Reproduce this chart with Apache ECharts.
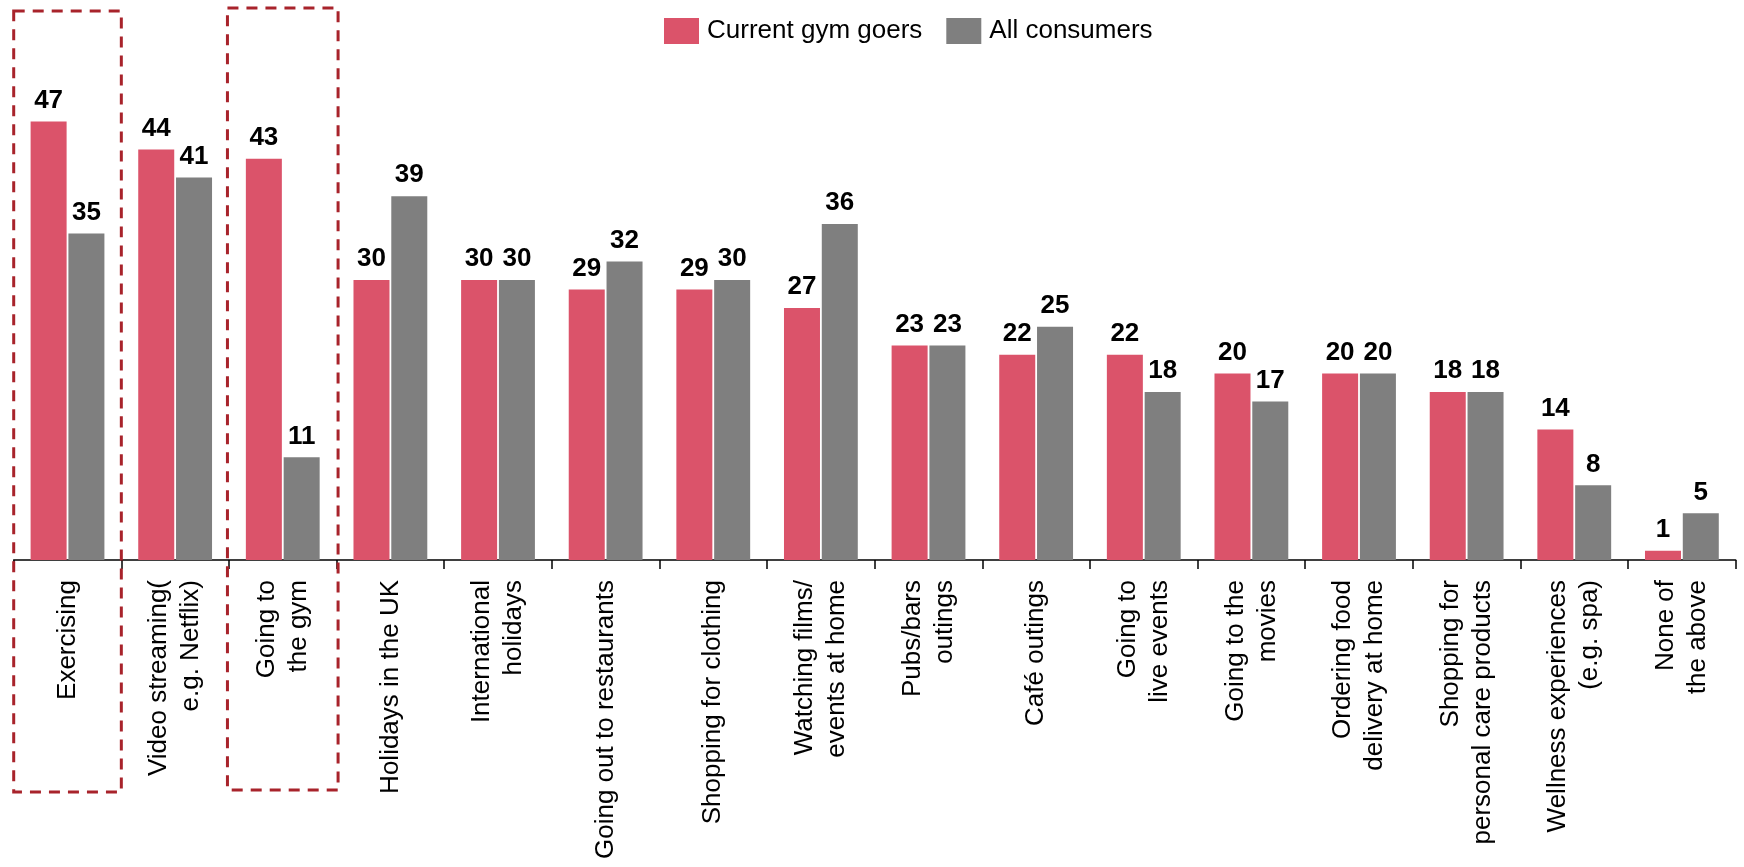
<!DOCTYPE html>
<html>
<head>
<meta charset="utf-8">
<title>Activities: current gym goers vs all consumers</title>
<script src="https://cdn.jsdelivr.net/npm/echarts@6/dist/echarts.min.js"></script>
<style>
  html, body { margin: 0; padding: 0; background: #ffffff; }
  #chart { width: 1744px; height: 867px; }
</style>
</head>
<body>
<div id="chart"></div>
<script>
// Activity categories (line breaks as shown under the axis)
const categories = [
  'Exercising',
  'Video streaming(\ne.g. Netflix)',
  'Going to\nthe gym',
  'Holidays in the UK',
  'International\nholidays',
  'Going out to restaurants',
  'Shopping for clothing',
  'Watching films/\nevents at home',
  'Pubs/bars\noutings',
  'Café outings',
  'Going to\nlive events',
  'Going to the\nmovies',
  'Ordering food\ndelivery at home',
  'Shopping for\npersonal care products',
  'Wellness experiences\n(e.g. spa)',
  'None of\nthe above'
];

// Share of respondents (%)
const gymGoers = [47, 44, 43, 30, 30, 29, 29, 27, 23, 22, 22, 20, 20, 18, 14, 1];
const allConsumers = [35, 41, 11, 39, 30, 32, 30, 36, 23, 25, 18, 17, 20, 18, 8, 5];

const seriesNames = ['Current gym goers', 'All consumers'];

// Categories outlined with a dashed frame
const highlighted = ['Exercising', 'Going to\nthe gym'];

const FONT = '"Liberation Sans", Arial, Helvetica, sans-serif';
const RED = '#DB536A';
const GREY = '#7F7F7F';

const chart = echarts.init(document.getElementById('chart'), null, { renderer: 'canvas' });

const valueLabel = {
  show: true,
  position: 'top',
  distance: 8,
  color: '#000000',
  fontFamily: FONT,
  fontSize: 26,
  fontWeight: 'bold'
};

chart.setOption({
  animation: false,
  backgroundColor: '#ffffff',
  textStyle: { fontFamily: FONT },
  legend: {
    left: 659,
    top: 13,
    itemWidth: 35,
    itemHeight: 26,
    itemGap: 24,
    icon: 'rect',
    textStyle: { fontFamily: FONT, fontSize: 26, color: '#000000', padding: [0, 0, 0, 3] },
    data: seriesNames
  },
  grid: {
    left: 13.7,
    right: 8.3,
    top: 93.5,
    bottom: 307,
    containLabel: false
  },
  xAxis: {
    type: 'category',
    data: categories,
    boundaryGap: true,
    axisLine: { show: true, lineStyle: { color: '#000000', width: 1.5 } },
    axisTick: { show: true, alignWithLabel: false, length: 9, lineStyle: { color: '#000000', width: 1.5 } },
    axisLabel: {
      interval: 0,
      rotate: 90,
      margin: 20,
      color: '#000000',
      fontFamily: FONT,
      fontSize: 26,
      lineHeight: 32
    },
    splitLine: { show: false }
  },
  yAxis: {
    type: 'value',
    min: 0,
    max: 50,
    show: false,
    splitLine: { show: false }
  },
  series: [
    {
      name: seriesNames[0],
      type: 'bar',
      data: gymGoers,
      barWidth: 36,
      barGap: '5%',
      itemStyle: { color: RED },
      label: valueLabel
    },
    {
      name: seriesNames[1],
      type: 'bar',
      data: allConsumers,
      barWidth: 36,
      barGap: '5%',
      itemStyle: { color: GREY },
      label: valueLabel
    }
  ]
});

// Dashed frames around the highlighted categories, spanning the band of each category
function drawFrames() {
  const c0 = chart.convertToPixel({ xAxisIndex: 0 }, 0);
  const c1 = chart.convertToPixel({ xAxisIndex: 0 }, 1);
  const band = c1 - c0;
  const frameTop = [11, 8];
  const frameBottom = [792, 790];
  const pad = [0, 1.5];
  const elements = highlighted.map(function (name, i) {
    const idx = categories.indexOf(name);
    const center = chart.convertToPixel({ xAxisIndex: 0 }, idx);
    const x0 = center - band / 2 - pad[i];
    const x1 = center + band / 2 + pad[i];
    return {
      type: 'rect',
      z: 100,
      silent: true,
      shape: { x: x0, y: frameTop[i], width: x1 - x0, height: frameBottom[i] - frameTop[i] },
      style: {
        fill: null,
        stroke: '#A8232B',
        lineWidth: 3,
        lineDash: [11, 8]
      }
    };
  });
  chart.setOption({ graphic: elements });
}
drawFrames();
</script>
</body>
</html>
